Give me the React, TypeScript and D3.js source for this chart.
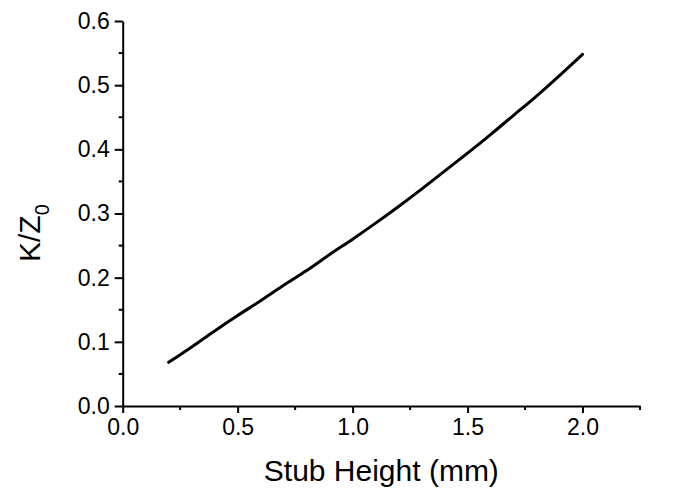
import { useEffect, useRef } from 'react';
import * as d3 from 'd3';

// Stub height (mm) vs K/Z0
const STUB_HEIGHT = [0.2, 0.3, 0.4, 0.5, 0.6, 0.7, 0.8, 0.9, 1.0, 1.1, 1.2, 1.3, 1.4, 1.5, 1.6, 1.7, 1.8, 1.9, 2.0];
const K_OVER_Z0 = [
  0.068, 0.092, 0.117, 0.141, 0.164, 0.188, 0.211, 0.236, 0.26, 0.285, 0.311, 0.338, 0.366, 0.394, 0.423, 0.453,
  0.483, 0.515, 0.548,
];
const X_MAJOR = [0, 0.5, 1.0, 1.5, 2.0];
const X_MINOR = [0.25, 0.75, 1.25, 1.75, 2.25];
const Y_MAJOR = [0, 0.1, 0.2, 0.3, 0.4, 0.5, 0.6];
const Y_MINOR = [0.05, 0.15, 0.25, 0.35, 0.45, 0.55];

const W = 675;
const H = 491;
const FONT = 'Liberation Sans, Arial, sans-serif';

export default function App() {
  const svgRef = useRef<SVGSVGElement>(null);

  useEffect(() => {
    if (!svgRef.current) return;
    const svg = d3.select(svgRef.current);
    svg.selectAll('*').remove();

    const left = 122.7;
    const right = 640;
    const top = 21;
    const bottom = 406;

    const x = d3.scaleLinear().domain([0, 2.25]).range([left, right]);
    const y = d3.scaleLinear().domain([0, 0.6]).range([bottom, top]);

    // x axis
    const gx = svg.append('g').attr('transform', `translate(0,${bottom})`);
    gx.call(
      d3.axisBottom(x).tickValues(X_MAJOR).tickSize(7).tickSizeOuter(0).tickPadding(6).tickFormat(d3.format('.1f'))
    );
    gx.append('g')
      .selectAll('line')
      .data(X_MINOR)
      .join('line')
      .attr('x1', (d) => x(d))
      .attr('x2', (d) => x(d))
      .attr('y1', 0)
      .attr('y2', 4)
      .attr('stroke', '#000')
      .attr('stroke-width', 2);

    // y axis
    const gy = svg.append('g').attr('transform', `translate(${left},0)`);
    gy.call(
      d3.axisLeft(y).tickValues(Y_MAJOR).tickSize(8).tickSizeOuter(0).tickPadding(5).tickFormat(d3.format('.1f'))
    );
    gy.append('g')
      .selectAll('line')
      .data(Y_MINOR)
      .join('line')
      .attr('x1', 0)
      .attr('x2', -4)
      .attr('y1', (d) => y(d))
      .attr('y2', (d) => y(d))
      .attr('stroke', '#000')
      .attr('stroke-width', 2);

    svg.selectAll('.domain').attr('stroke', '#000').attr('stroke-width', 2);
    svg.selectAll('.tick line').attr('stroke', '#000').attr('stroke-width', 2);
    svg
      .selectAll('.tick text')
      .attr('fill', '#000')
      .style('font-size', '23px')
      .style('font-family', FONT);

    // curve
    const pts = STUB_HEIGHT.map((h, i) => [h, K_OVER_Z0[i]] as [number, number]);
    const line = d3
      .line<[number, number]>()
      .x((d) => x(d[0]))
      .y((d) => y(d[1]))
      .curve(d3.curveMonotoneX);
    svg
      .append('path')
      .attr('d', line(pts))
      .attr('fill', 'none')
      .attr('stroke', '#000')
      .attr('stroke-width', 3)
      .attr('stroke-linecap', 'round');

    // titles
    svg
      .append('text')
      .attr('x', (left + right) / 2)
      .attr('y', 481)
      .attr('text-anchor', 'middle')
      .style('font-size', '30px')
      .style('font-family', FONT)
      .text('Stub Height (mm)');

    const yl = svg
      .append('text')
      .attr('transform', 'translate(40,262) rotate(-90)')
      .attr('text-anchor', 'start')
      .style('font-size', '30px')
      .style('font-family', FONT);
    yl.append('tspan').text('K/Z');
    yl.append('tspan').attr('dy', 9).style('font-size', '20px').text('0');
  }, []);

  return (
    <svg
      ref={svgRef}
      width={W}
      height={H}
      style={{ display: 'block', position: 'absolute', left: 0, top: 0, background: '#fff' }}
    />
  );
}
